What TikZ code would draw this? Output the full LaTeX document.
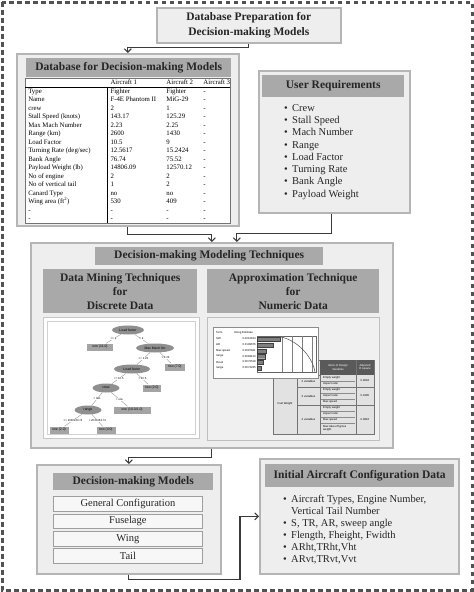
\documentclass[tikz,border=0pt]{standalone}
\usepackage{fontspec}
\setmainfont{Liberation Serif}
\newfontfamily\chartfont{Liberation Sans}
\usetikzlibrary{arrows.meta,shapes.geometric}

\definecolor{boxfill}{HTML}{EEEEEE}
\definecolor{boxline}{HTML}{B5B5B5}
\definecolor{barfill}{HTML}{A9A9A9}
\definecolor{inkgray}{HTML}{3A3A3A}
\definecolor{splitgray}{HTML}{8F8F8F}
\definecolor{leafgray}{HTML}{A4A4A4}
\definecolor{headdark}{HTML}{5A5A5A}
\definecolor{cellgray}{HTML}{E2E2E2}

\newcommand{\itembul}{\makebox[8pt][l]{\textbullet}}

\begin{document}
\begin{tikzpicture}[x=1pt,y=-1pt,
  outerbox/.style={draw=boxline,fill=boxfill,line width=1.6pt,anchor=north west,inner sep=0pt},
  titlebar/.style={fill=barfill,anchor=north west,inner sep=0pt,align=center,text=black!85,
    font=\fontsize{11.5}{14}\selectfont\bfseries},
  partbox/.style={draw=black!38,fill=black!3,line width=0.8pt,anchor=north west,inner sep=0pt,
    minimum width=149pt,minimum height=14.5pt,font=\fontsize{10.5}{12}\selectfont,text=black!85},
  bullets/.style={anchor=north west,align=left,inner sep=0pt,text=black!85,
    font=\fontsize{10.5}{12.3}\selectfont},
  conn/.style={draw=inkgray,line width=1.1pt,-{Straight Barb[length=3.5pt,width=7pt]}},
  split/.style={ellipse,fill=splitgray,inner sep=0pt,minimum height=9pt,
    font=\chartfont\fontsize{3.4}{4}\selectfont},
  leaf/.style={fill=leafgray,inner sep=0pt,minimum height=7pt,
    font=\chartfont\fontsize{3.4}{4}\selectfont},
  branch/.style={draw=black!40,line width=0.4pt},
  cond/.style={fill=white,inner sep=0.4pt,font=\chartfont\fontsize{2.8}{3}\selectfont},
  tinytext/.style={inner sep=0pt,font=\chartfont\fontsize{2.8}{3.3}\selectfont}
]
\useasboundingbox (0,0) rectangle (474,592);

% ------------------------------------------------------------------
% Outer dashed frame
% ------------------------------------------------------------------
\draw[draw=black!68,line width=3pt,dash pattern=on 4.5pt off 3.5pt] (2,2) rectangle (472,590);

% ------------------------------------------------------------------
% Database preparation (top)
% ------------------------------------------------------------------
\node[outerbox,minimum width=184pt,minimum height=35pt] (prep) at (156,7) {};
\node[align=center,text=black!85,font=\fontsize{11.5}{14.5}\selectfont\bfseries]
  (preptitle) at (prep.center) {Database Preparation for\\Decision-making Models};

% ------------------------------------------------------------------
% Database for decision-making models
% ------------------------------------------------------------------
\node[outerbox,minimum width=222pt,minimum height=172pt] (db) at (16,53) {};
\node[titlebar,minimum width=205pt,minimum height=19pt] (dbtitle) at (26,58)
  {Database for Decision-making Models};
\node[anchor=north west,draw=black!55,fill=white,inner sep=0pt,line width=0.6pt,
  font=\fontsize{6.8}{8.5}\selectfont] (dbtable) at (25,78) {%
  \setlength{\tabcolsep}{0pt}%
  \begin{tabular}{@{\hspace{3pt}}p{79pt}|@{\hspace{3pt}}p{53pt}@{\hspace{3pt}}p{34pt}@{\hspace{3pt}}p{27pt}}
  \multicolumn{1}{@{\hspace{3pt}}p{79.4pt}}{} & Aircraft 1 & Aircraft 2 & Aircraft 3\\ \hline
  Type & Fighter & Fighter & -\\
  Name & F-4E Phantom II & MiG-29 & -\\
  crew & 2 & 1 & -\\
  Stall Speed (knots) & 143.17 & 125.29 & -\\
  Max Mach Number & 2.23 & 2.25 & -\\
  Range (km) & 2600 & 1430 & -\\
  Load Factor & 10.5 & 9 & -\\
  Turning Rate (deg/sec) & 12.5617 & 15.2424 & -\\
  Bank Angle & 76.74 & 75.52 & -\\
  Payload Weight (lb) & 14806.09 & 12570.12 & -\\
  No of engine & 2 & 2 & -\\
  No of vertical tail & 1 & 2 & -\\
  Canard Type & no & no & -\\
  Wing area (ft\textsuperscript{2}) & 530 & 409 & -\\
  - & - & - & -\\
  - & - & - & -
  \end{tabular}};

% ------------------------------------------------------------------
% User requirements
% ------------------------------------------------------------------
\node[outerbox,minimum width=151pt,minimum height=142pt] (ur) at (258,70) {};
\node[titlebar,minimum width=142pt,minimum height=22pt] (urtitle) at (262,75)
  {User Requirements};
\node[bullets] (urlist) at (284,104)
  {\itembul Crew\\ \itembul Stall Speed\\ \itembul Mach Number\\ \itembul Range\\
   \itembul Load Factor\\ \itembul Turning Rate\\ \itembul Bank Angle\\ \itembul Payload Weight};

% ------------------------------------------------------------------
% Decision-making modeling techniques
% ------------------------------------------------------------------
\node[outerbox,minimum width=362pt,minimum height=205pt] (tech) at (30,242) {};
\node[titlebar,minimum width=228pt,minimum height=18pt] (techtitle) at (95,247)
  {Decision-making Modeling Techniques};
\node[titlebar,minimum width=154pt,minimum height=44pt] (minetitle) at (43,269)
  {Data Mining Techniques\\for\\Discrete Data};
\node[titlebar,minimum width=172pt,minimum height=44pt] (approxtitle) at (207,269)
  {Approximation Technique\\for\\Numeric Data};

% left panel: decision tree
\node[draw=black!22,fill=white,anchor=north west,inner sep=0pt,line width=0.8pt,
  minimum width=156pt,minimum height=121pt] (minepanel) at (43,317) {};
\draw[black!18,line width=0.6pt] (47,321) rectangle (195,434);

\node[split,minimum width=32pt] (lf1) at (128,330) {Load factor};
\node[leaf,minimum width=26pt] (one11) at (100,347) {one (11.0)};
\node[split,minimum width=38pt] (maxmach) at (155,348) {Max Mach No};
\node[leaf,minimum width=20pt] (two7) at (175,367) {two (7.0)};
\node[split,minimum width=36pt] (lf2) at (132,369) {Load factor};
\node[leaf,minimum width=18pt] (two2) at (152,388) {two (2.0)};
\node[split,minimum width=27pt] (crew) at (106,388) {crew};
\node[split,minimum width=27pt] (range) at (88,410) {range};
\node[leaf,minimum width=37pt] (one10) at (132,410) {one (10.0/1.0)};
\node[leaf,minimum width=19pt] (one2) at (59,430) {one (2.0)};
\node[leaf,minimum width=19pt] (two4) at (106,430) {two (4.0)};

\draw[branch] (lf1) -- (one11) node[cond,midway] {<= 9};
\draw[branch] (lf1) -- (maxmach) node[cond,midway] {> 9};
\draw[branch] (maxmach) -- (lf2) node[cond,midway] {<= 2.23};
\draw[branch] (maxmach) -- (two7) node[cond,midway] {> 2.23};
\draw[branch] (lf2) -- (crew) node[cond,midway] {<= 10.5};
\draw[branch] (lf2) -- (two2) node[cond,midway] {> 10.5};
\draw[branch] (crew) -- (range) node[cond,midway] {= two};
\draw[branch] (crew) -- (one10) node[cond,midway] {= one};
\draw[branch] (range) -- (one2) node[cond,midway] {<= 2030163.74};
\draw[branch] (range) -- (two4) node[cond,midway] {> 2030163.74};

% right panel: regression table and screening chart
\node[draw=black!25,fill=black!6,anchor=north west,inner sep=0pt,line width=0.8pt,
  minimum width=172pt,minimum height=123pt] (approxpanel) at (207,317) {};

\node[draw=black!55,fill=cellgray,anchor=north west,inner sep=0pt,line width=0.5pt,
  minimum width=101pt,minimum height=74pt] (rtab) at (273,360) {};
\node[fill=headdark,anchor=north west,inner sep=0pt,minimum width=54pt,minimum height=15pt]
  (rhead) at (320,360) {};
\node[tinytext,text=white,align=center] (rhvar) at (338,367.5) {Items of Design\\Variables};
\node[tinytext,text=white,align=center] (rhrsq) at (365,367.5) {Adjusted\\R square};
\draw[black!55,line width=0.4pt] (297,375) -- (297,434) (320,375) -- (320,434) (356,360) -- (356,434)
  (297,387) -- (374,387) (297,405) -- (374,405) (273,375) -- (320,375);
\draw[black!45,line width=0.3pt] (321,381) -- (355,381) (321,393) -- (355,393) (321,399) -- (355,399)
  (321,411) -- (355,411) (321,417) -- (355,417) (321,423) -- (355,423);
\node[tinytext] (rfuel) at (285,404) {Fuel Weight};
\node[tinytext] (rv2) at (308.5,381) {2 variables};
\node[tinytext] (rv3) at (308.5,396) {3 variables};
\node[tinytext] (rv4) at (308.5,419.5) {4 variables};
\node[tinytext,anchor=west] (rc1) at (323,378) {Empty weight};
\node[tinytext,anchor=west] (rc2) at (323,384) {Aspect ratio};
\node[tinytext,anchor=west] (rc3) at (323,390) {Empty weight};
\node[tinytext,anchor=west] (rc4) at (323,396) {Aspect ratio};
\node[tinytext,anchor=west] (rc5) at (323,402) {Max speed};
\node[tinytext,anchor=west] (rc6) at (323,408) {Empty weight};
\node[tinytext,anchor=west] (rc7) at (323,414) {Aspect ratio};
\node[tinytext,anchor=west] (rc8) at (323,420) {Max speed};
\node[tinytext,anchor=west,align=left] (rc9) at (323,428.5) {Max take-off gross\\weight};
\node[tinytext] (rr2) at (365,381) {0.8094};
\node[tinytext] (rr3) at (365,396) {0.9195};
\node[tinytext] (rr4) at (365,419.5) {0.9616};

\node[draw=black!45,fill=white,anchor=north west,inner sep=0pt,line width=0.5pt,
  minimum width=105pt,minimum height=51pt] (chart) at (213,327) {};
\node[tinytext,anchor=west] (cterm) at (216,333) {Term};
\node[tinytext,anchor=west] (cest) at (234,333) {Using Estimate};
\node[tinytext,anchor=west] (ct1) at (216,339) {SW};
\node[tinytext,anchor=west] (ct2) at (216,345) {AR};
\node[tinytext,anchor=west] (ct3) at (216,351) {Max speed};
\node[tinytext,anchor=west] (ct4) at (216,356.5) {range};
\node[tinytext,anchor=west] (ct5) at (216,362) {thrust};
\node[tinytext,anchor=west] (ct6) at (216,368) {range};
\node[tinytext,anchor=east] (cv1) at (256,339) {0.0212164};
\node[tinytext,anchor=east] (cv2) at (256,345) {0.0199676};
\node[tinytext,anchor=east] (cv3) at (256,351) {0.0097621};
\node[tinytext,anchor=east] (cv4) at (256,356.5) {0.0083123};
\node[tinytext,anchor=east] (cv5) at (256,362) {0.0072518};
\node[tinytext,anchor=east] (cv6) at (256,368) {0.0074235};
\draw[black!60,line width=0.4pt] (257,336) rectangle (316,372);
\draw[black!50,line width=0.3pt] (282,336) -- (282,372) (292,336) -- (292,372)
  (302,336) -- (302,372) (312,336) -- (312,372);
\draw[black!75,fill=black!50,line width=0.3pt]
  (257,336.8) rectangle (280,341.2) (257,342.8) rectangle (273,347.2)
  (257,348.8) rectangle (266,353.2) (257,354.3) rectangle (265,358.7)
  (257,359.8) rectangle (263,364.2) (257,365.8) rectangle (261,370.2);
\draw[black!70,line width=0.5pt] (281,337) .. controls (296,340) and (312,355) .. (315,372);

% ------------------------------------------------------------------
% Decision-making models
% ------------------------------------------------------------------
\node[outerbox,minimum width=184pt,minimum height=109pt] (dmm) at (36,464) {};
\node[titlebar,minimum width=160pt,minimum height=17pt] (dmmtitle) at (53,473)
  {Decision-making Models};
\node[partbox] (general) at (53,496) {General Configuration};
\node[partbox] (fuselage) at (53,513.5) {Fuselage};
\node[partbox] (wing) at (53,531) {Wing};
\node[partbox] (tail) at (53,548) {Tail};

% ------------------------------------------------------------------
% Initial aircraft configuration data
% ------------------------------------------------------------------
\node[outerbox,minimum width=199pt,minimum height=115pt] (init) at (259,458) {};
\node[titlebar,minimum width=189pt,minimum height=23pt] (inittitle) at (265,464)
  {Initial Aircraft Configuration Data};
\node[bullets,font=\fontsize{10.5}{11.9}\selectfont] (initlist) at (283,495)
  {\itembul Aircraft Types, Engine Number,\\ \hspace*{8pt}Vertical Tail Number\\
   \itembul S, TR, AR, sweep angle\\ \itembul Flength, Fheight, Fwidth\\
   \itembul ARht,TRht,Vht\\ \itembul ARvt,TRvt,Vvt};

% ------------------------------------------------------------------
% Connectors
% ------------------------------------------------------------------
\draw[conn] (prep.south) -- ++(0,4) -| (db.north);
\draw[conn] (db.south) -- ++(0,8) -| (tech.north);
\draw[conn] ([xshift=-3pt]ur.south) -- ++(0,20) -| ([xshift=25pt]tech.north);
\draw[conn] (tech.south) -- ++(0,9) -| (dmm.north);
\draw[conn] (dmm.south) -- ++(0,5) -| ([xshift=-19pt]init.west) -- (init.west);

\end{tikzpicture}
\end{document}
